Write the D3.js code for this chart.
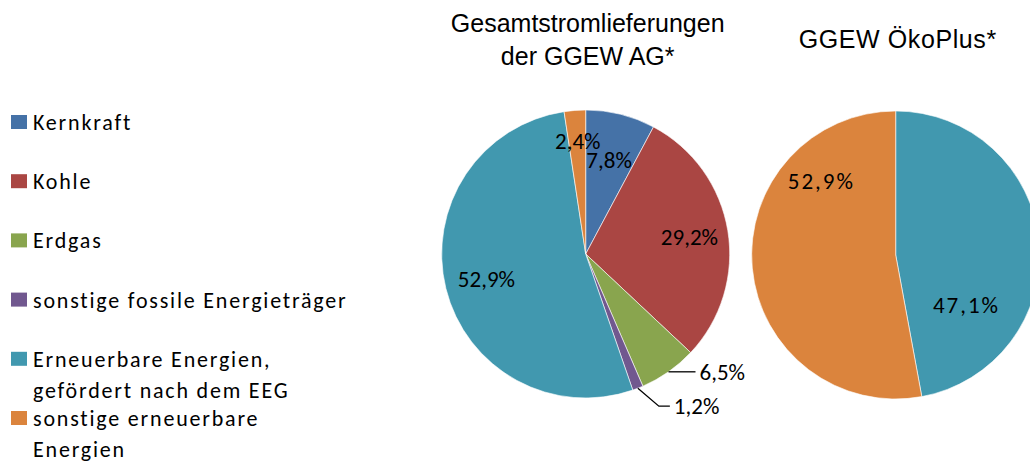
<!DOCTYPE html>
<html><head><meta charset="utf-8">
<script src="https://cdn.jsdelivr.net/npm/d3@7"></script>
<style>
html,body{margin:0;padding:0;background:#fff;}
svg{display:block;}
</style></head>
<body>
<svg id="chart" width="1030" height="466"></svg>
<script>
// ---- data ----
const categories = ["Kernkraft","Kohle","Erdgas","sonstige fossile Energieträger","Erneuerbare Energien, gefördert nach dem EEG","sonstige erneuerbare Energien"];
const legendLines = [["Kernkraft"],["Kohle"],["Erdgas"],["sonstige fossile Energieträger"],["Erneuerbare Energien,","gefördert nach dem EEG"],["sonstige erneuerbare","Energien"]];
const colors = ["#4572A7","#AA4643","#89A54E","#71588F","#4198AF","#DB843D"];
const gesamtValues = [7.8, 29.2, 6.5, 1.2, 52.9, 2.4];
const oekoValues = [0, 0, 0, 0, 47.1, 52.9];
const titles = [["Gesamtstromlieferungen","der GGEW AG*"],["GGEW ÖkoPlus*"]];

const svg = d3.select("#chart");
const labelFont = "Carlito, Lato, 'Open Sans', sans-serif";
const fmt = v => d3.format(".1f")(v).replace(".", ",") + "%";

// ---- legend ----
const leg = svg.append("g");
legendLines.forEach((lines, i) => {
  const base = 130 + i * 59.2;
  leg.append("rect").attr("x", 11).attr("y", base - 15).attr("width", 16).attr("height", 14).attr("fill", colors[i]);
  lines.forEach((t, j) => {
    leg.append("text").attr("x", 33).attr("y", base + j * 31)
      .attr("font-family", labelFont).attr("font-size", 22).attr("letter-spacing", 1.8)
      .attr("fill", "#000").text(t);
  });
});

// ---- pies ----
const R = 144;
const pie = d3.pie().sort(null).value(d => d.v);
const arc = d3.arc().innerRadius(0).outerRadius(R);

function drawPie(cx, cy, values, title, titleBase, titleSpacing, labelSpacing, labelCfg) {
  const g = svg.append("g").attr("transform", `translate(${cx},${cy})`);
  const data = pie(values.map((v, i) => ({v, i})));
  g.selectAll("path").data(data.filter(d => d.data.v > 0)).join("path")
    .attr("d", arc).attr("fill", d => colors[d.data.i])
    .attr("stroke", "#fff").attr("stroke-width", 0.6);
  data.filter(d => d.data.v > 0).forEach(d => {
    const cfg = labelCfg[d.data.i];
    const mid = (d.startAngle + d.endAngle) / 2;
    if (cfg.outside) {
      const ex = Math.sin(mid) * R, ey = -Math.cos(mid) * R;
      const pts = cfg.path.map(p => [ex + p[0], ey + p[1]]);
      g.append("path").attr("d", d3.line()([[ex, ey], ...pts]))
        .attr("fill", "none").attr("stroke", "#000").attr("stroke-width", 1.3);
      const last = pts[pts.length - 1];
      g.append("text").attr("x", last[0] + 4).attr("y", last[1]).attr("dy", "0.35em")
        .attr("font-family", labelFont).attr("font-size", 23).attr("fill", "#000")
        .attr("letter-spacing", labelSpacing).text(fmt(d.data.v));
    } else {
      const a = cfg.angle !== undefined ? cfg.angle * Math.PI / 180 : mid;
      const r = R * cfg.r;
      g.append("text").attr("x", Math.sin(a) * r).attr("y", -Math.cos(a) * r)
        .attr("dy", "0.35em").attr("text-anchor", "middle")
        .attr("font-family", labelFont).attr("font-size", 23).attr("fill", "#000")
        .attr("letter-spacing", labelSpacing).text(fmt(d.data.v));
    }
  });
  title.forEach((t, j) => {
    svg.append("text").attr("x", cx + 2).attr("y", titleBase + j * 33)
      .attr("text-anchor", "middle").attr("font-family", "'Liberation Sans', Arial, sans-serif")
      .attr("font-size", 25).attr("letter-spacing", titleSpacing).attr("fill", "#000").text(t);
  });
}

drawPie(585.7, 254, gesamtValues, titles[0], 32, 0, 0, [
  {r: 0.67}, {r: 0.73}, {outside: true, path: [[27, 0]]},
  {outside: true, path: [[21, 18], [32, 18]]}, {r: 0.71}, {r: 0.79, angle: -4}
]);
drawPie(895.7, 255, oekoValues, titles[1], 48, 0.6, 2, [
  {}, {}, {}, {}, {r: 0.6, angle: 125}, {r: 0.73, angle: 315}
]);
</script>
</body></html>
